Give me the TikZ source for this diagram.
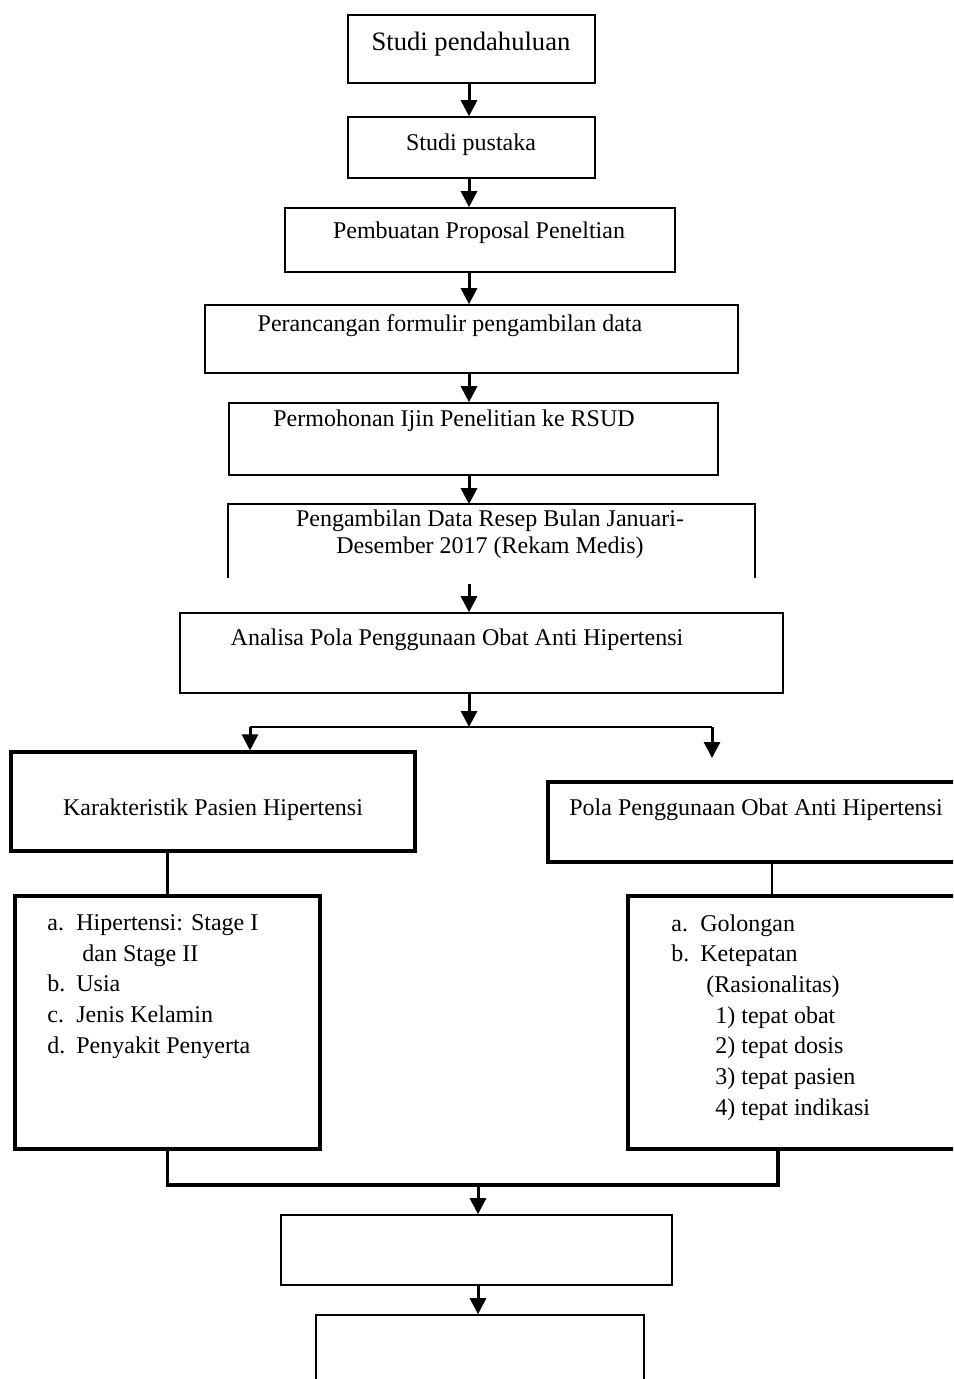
\documentclass[tikz,border=0pt]{standalone}
\usepackage{fontspec}
\setmainfont{Liberation Serif}
\usetikzlibrary{arrows.meta,positioning,calc}
\newcommand{\itm}[1]{\makebox[14.5pt][l]{#1}}

\begin{document}
\begin{tikzpicture}[x=0.5pt, y=-0.5pt, every node/.style={font=\fontsize{12}{15.35}\selectfont}]
\tikzset{box/.style 2 args={draw, line width=0.8pt, minimum width=#1*0.5pt, minimum height=#2*0.5pt, inner sep=0pt}}
\tikzset{boldbox/.style 2 args={box={#1}{#2}, line width=1.6pt}}
\tikzset{txt/.style={inner sep=0pt}}
\tikzset{arrow/.style={-{Triangle[length=8pt,width=8pt]}, line width=1.5pt}}
\tikzset{link/.style={line width=1.2pt}}
\clip (0,0) rectangle (953,1379);
% main column
\node[box={247}{68}] (b1) at (471.5,49) {};
\node[txt, font=\fontsize{13.3}{16}\selectfont] (t1) at (471,44) {Studi pendahuluan};
\node[box={247}{61}] (b2) at (471.5,147.5) {};
\node[txt] (t2) at (471,145) {Studi pustaka};
\node[box={390}{64}] (b3) at (480,240) {};
\node[txt] (t3) at (479,233) {Pembuatan Proposal Peneltian};
\node[box={533}{68}] (b4) at (471.5,339) {};
\node[txt] (t4) at (450,326) {Perancangan formulir pengambilan data};
\node[box={489}{72}] (b5) at (473.5,439) {};
\node[txt] (t5) at (454,421) {Permohonan Ijin Penelitian ke RSUD};
\node[box={525}{72}, draw=none] (b6) at (491.5,541) {};
\draw[line width=0.8pt] (b6.south west) -- (b6.north west) -- (b6.north east) -- (b6.south east);
\node[txt, align=center, font=\fontsize{12}{13.5}\selectfont] (t6) at (490,534) {Pengambilan Data Resep Bulan Januari-\\Desember 2017 (Rekam Medis)};
\node[box={603}{80}] (b7) at (481.5,653) {};
\node[txt] (t7) at (457,640) {Analisa Pola Penggunaan Obat Anti Hipertensi};
% two branches
\node[boldbox={404}{99}] (b8) at (213,801.5) {};
\node[txt] (t8) at (213,810) {Karakteristik Pasien Hipertensi};
\node[boldbox={412}{80}] (b9) at (754,822) {};
\node[txt] (t9) at (756,810) {Pola Penggunaan Obat Anti Hipertensi};
\node[boldbox={305}{253}] (b10) at (167.5,1022.5) {};
\node[txt, align=left, anchor=north west] (l10) at (47,914) {\itm{a.}Hipertensi: Stage I\\
  \hspace*{17.5pt}dan Stage II\\
  \itm{b.}Usia\\
  \itm{c.}Jenis Kelamin\\
  \itm{d.}Penyakit Penyerta};
\node[boldbox={332}{253}] (b11) at (794,1022.5) {};
\node[txt, align=left, anchor=north west] (l11) at (671,914) {\itm{a.}Golongan\\
  \itm{b.}Ketepatan\\
  \hspace*{17.5pt}(Rasionalitas)\\
  \hspace*{22pt}1) tepat obat\\
  \hspace*{22pt}2) tepat dosis\\
  \hspace*{22pt}3) tepat pasien\\
  \hspace*{22pt}4) tepat indikasi};
\node[box={391}{70}] (b12) at (476.5,1250) {};
\node[box={328}{105}] (b13) at (480,1367.5) {};
% connectors
\coordinate (spine) at (469,0);
\coordinate (split) at (469,727);
\coordinate (splitL) at (250,727);
\coordinate (splitR) at (712,727);
\coordinate (endR) at (712,758);
\coordinate (r9) at (772,0);
\coordinate (r10) at (778,0);
\coordinate (join) at (478,1185);
\draw[arrow] (spine |- b1.south) -- (spine |- b2.north);
\draw[arrow] (spine |- b2.south) -- (spine |- b3.north);
\draw[arrow] (spine |- b3.south) -- (spine |- b4.north);
\draw[arrow] (spine |- b4.south) -- (spine |- b5.north);
\draw[arrow] (spine |- b5.south) -- (spine |- b6.north);
\draw[arrow] ($(spine |- b6.south)+(0,6)$) -- (spine |- b7.north);
\draw[arrow] (spine |- b7.south) -- (split);
\draw[link] (splitL) -- (splitR);
\draw[arrow] (splitL) -- (splitL |- b8.north);
\draw[arrow] (splitR) -- (endR);
\draw[link] (b10.north |- b8.south) -- (b10.north);
\draw[link] (r9 |- b9.south) -- (r9 |- b11.north);
\draw[line width=1.6pt] (b10.south) |- (r10 |- join) -- (r10 |- b11.south);
\draw[arrow] (join) -- (join |- b12.north);
\draw[arrow] (join |- b12.south) -- (join |- b13.north);
\end{tikzpicture}
\end{document}
